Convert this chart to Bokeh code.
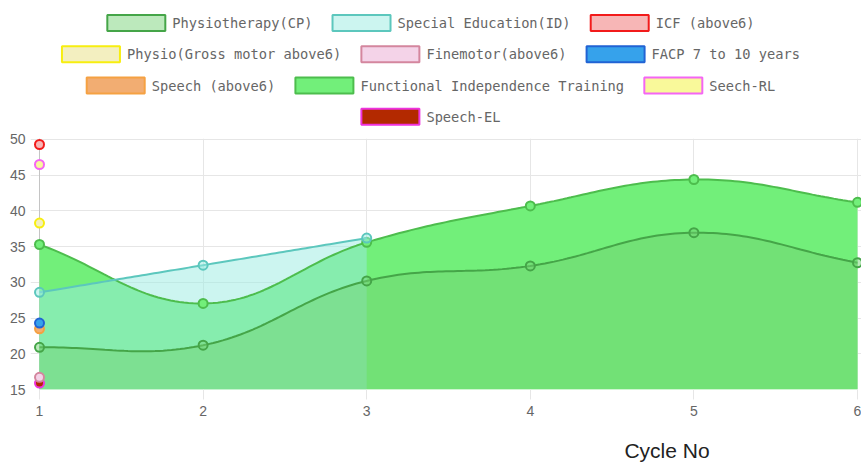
import numpy as np
from bokeh.plotting import figure
from bokeh.layouts import column
from bokeh.models import Range1d, Span, FixedTicker
from bokeh.core.properties import value
from bokeh.embed import file_html
from bokeh.resources import INLINE

# ---------------- data ----------------
cycles = [1, 2, 3, 4, 5, 6]
physio_cp = [20.9, 21.2, 30.2, 32.3, 36.95, 32.75]
special_ed = [28.6, 32.4, 36.2]
fit_train = [35.3, 27.05, 35.6, 40.7, 44.4, 41.2]
icf_above6 = [49.3]
physio_gross = [38.3]
finemotor = [16.7]
facp = [24.3]
speech_above6 = [23.5]
seech_rl = [46.5]
speech_el = [15.9]
y_ticks = [15, 20, 25, 30, 35, 40, 45, 50]
x_label = "Cycle No"

names = ["Physiotherapy(CP)", "Special Education(ID)", "ICF (above6)",
         "Physio(Gross motor above6)", "Finemotor(above6)", "FACP 7 to 10 years",
         "Speech (above6)", "Functional Independence Training", "Seech-RL",
         "Speech-EL"]
fills = ["#74d174", "#9aebe1", "#f7b6b6", "#f3efc0", "#f4d3e8", "#36a2eb",
         "#f2ad72", "#72ef7a", "#f9f99a", "#b32900"]
fill_alphas = [0.48, 0.5, 1, 1, 1, 1, 1, 1, 1, 1]
lines = ["#45a548", "#5cc7bd", "#f21b1b", "#f7ee10", "#d4869e", "#2163d4",
         "#f5a142", "#4dbd4d", "#f466f4", "#ee33dd"]

# ---------------- helpers ----------------
PX_X, PX_Y = 163.6, 7.143   # pixel per unit, used for Chart.js-like spline distances


def spline(xs, ys, tension=0.4, n=40):
    X = np.array(xs, float) * PX_X
    Y = np.array(ys, float) * PX_Y
    m = len(X)
    cprev, cnext = [], []
    for i in range(m):
        a = i - 1 if i > 0 else 0
        b = i + 1 if i < m - 1 else m - 1
        d01 = np.hypot(X[i] - X[a], Y[i] - Y[a])
        d12 = np.hypot(X[b] - X[i], Y[b] - Y[i])
        tot = d01 + d12
        s01 = d01 / tot if tot else 0
        s12 = d12 / tot if tot else 0
        fa, fb = tension * s01, tension * s12
        cprev.append((X[i] - fa * (X[b] - X[a]), Y[i] - fa * (Y[b] - Y[a])))
        cnext.append((X[i] + fb * (X[b] - X[a]), Y[i] + fb * (Y[b] - Y[a])))
    ox, oy = [X[0]], [Y[0]]
    t = np.linspace(0, 1, n)[1:]
    for i in range(m - 1):
        p0 = (X[i], Y[i]); p1 = cnext[i]; p2 = cprev[i + 1]; p3 = (X[i + 1], Y[i + 1])
        for k, arr in ((0, ox), (1, oy)):
            arr.extend((1 - t) ** 3 * p0[k] + 3 * (1 - t) ** 2 * t * p1[k]
                       + 3 * (1 - t) * t ** 2 * p2[k] + t ** 3 * p3[k])
    return np.array(ox) / PX_X, np.array(oy) / PX_Y


W = 861
TOP, BOTTOM, LEFT = 12, 32, 30


def pixel_figure(w, h):
    # frame aligned with the main chart's frame (column aligns frames),
    # x range chosen so that one unit is one page pixel
    f = figure(width=w, height=h, output_backend="svg", toolbar_location=None,
               x_range=Range1d(LEFT, w), y_range=Range1d(h, 0),
               min_border=0, min_border_left=LEFT, min_border_right=0,
               min_border_top=0, min_border_bottom=0)
    f.axis.visible = False
    f.grid.visible = False
    f.outline_line_color = None
    f.title.visible = False
    return f


# ---------------- legend figure (Chart.js style centred rows) ----------------
LH = 126
leg = pixel_figure(W, LH)
rows = [[0, 1, 2], [3, 4, 5], [6, 7, 8], [9]]
row_y = [22.6, 53.8, 85.0, 116.3]
FS = 13.7
CHAR_W = FS * 0.602
GW, GH, STAND, SPACE = 58, 16, 7, 20
CENTER = W / 2
bx, by, bf, ba, bl, tx, ty, tt = [], [], [], [], [], [], [], []
for r, row in enumerate(rows):
    width = sum(GW + STAND + len(names[i]) * CHAR_W for i in row) + SPACE * (len(row) - 1)
    x = CENTER - width / 2
    for i in row:
        bx.append(x + GW / 2); by.append(row_y[r])
        bf.append(fills[i]); ba.append(fill_alphas[i]); bl.append(lines[i])
        tx.append(x + GW + STAND); ty.append(row_y[r]); tt.append(names[i])
        x += GW + STAND + len(names[i]) * CHAR_W + SPACE
leg.rect(x=bx, y=by, width=GW, height=GH, fill_color=bf, fill_alpha=ba,
         line_color=bl, line_width=2)
leg.text(x=tx, y=ty, text=tt, text_baseline="middle", text_align="left",
         text_font=value("DejaVu Sans Mono"), text_font_size=f"{FS}px",
         text_color="#666666")

# ---------------- main figure ----------------
MH = 421 - LH
p = figure(width=W, height=MH, output_backend="svg", toolbar_location=None,
           min_border_left=LEFT, min_border_right=0, min_border_top=TOP,
           min_border_bottom=BOTTOM)
frame_w = W - LEFT
scale = (frame_w - 9 - 4) / 5.0
p.x_range = Range1d(1 - 9 / scale, 6 + 4 / scale)
frame_h = MH - TOP - BOTTOM
p.y_range = Range1d(15, 15 + frame_h / PX_Y)
p.title.visible = False
p.outline_line_color = None

grid_c = "#e6e6e6"
p.xaxis.ticker = FixedTicker(ticks=cycles)
p.yaxis.ticker = FixedTicker(ticks=y_ticks)
p.xgrid.ticker = FixedTicker(ticks=cycles)
p.ygrid.ticker = FixedTicker(ticks=y_ticks)
p.grid.grid_line_color = grid_c
p.xaxis.axis_line_color = None
p.xaxis.major_tick_line_color = grid_c
p.xaxis.major_tick_out = 10
p.xaxis.major_tick_in = 0
p.xaxis.minor_tick_line_color = None
p.xaxis.major_label_standoff = 6
p.yaxis.axis_line_color = None
p.yaxis.major_tick_line_color = None
p.yaxis.major_tick_out = 0
p.yaxis.major_tick_in = 0
p.yaxis.minor_tick_line_color = None
p.yaxis.major_label_standoff = 5
for ax in (p.xaxis, p.yaxis):
    ax.major_label_text_font = "Liberation Sans"
    ax.major_label_text_font_size = "14px"
    ax.major_label_text_color = "#666666"

p.add_layout(Span(location=1, dimension="height", line_color="#c4c4c4",
                  line_width=1, level="underlay"))

# ---------------- series: fills first, then lines/points (last dataset first) ----------------
area_data = [(7, cycles, fit_train), (1, cycles[:len(special_ed)], special_ed),
             (0, cycles, physio_cp)]
curves = {}
for idx, xs, ys in area_data:
    sx, sy = spline(xs, ys)
    curves[idx] = (sx, sy)
    p.varea(x=sx, y1=15, y2=sy, fill_color=fills[idx], fill_alpha=fill_alphas[idx])


def area_line(idx, xs, ys):
    sx, sy = curves[idx]
    p.line(sx, sy, line_color=lines[idx], line_width=2)
    p.scatter(xs, ys, size=9, fill_color=fills[idx], fill_alpha=fill_alphas[idx],
              line_color=lines[idx], line_width=2)


def point_series(idx, ys):
    p.scatter(cycles[:len(ys)], ys, size=9, fill_color=fills[idx],
              line_color=lines[idx], line_width=2)


point_series(9, speech_el)
point_series(8, seech_rl)
area_line(7, cycles, fit_train)
point_series(6, speech_above6)
point_series(5, facp)
point_series(4, finemotor)
point_series(3, physio_gross)
point_series(2, icf_above6)
area_line(1, cycles[:len(special_ed)], special_ed)
area_line(0, cycles, physio_cp)

# ---------------- x-axis title ----------------
FH = 45
foot = pixel_figure(W, FH)
foot.text(x=[666.5], y=[29], text=[x_label], text_align="center", text_baseline="middle",
          text_font=value("Liberation Sans"), text_font_size="21px", text_color="#222222")

layout = column(leg, p, foot, spacing=0)
open("out.html", "w").write(file_html(layout, INLINE))
